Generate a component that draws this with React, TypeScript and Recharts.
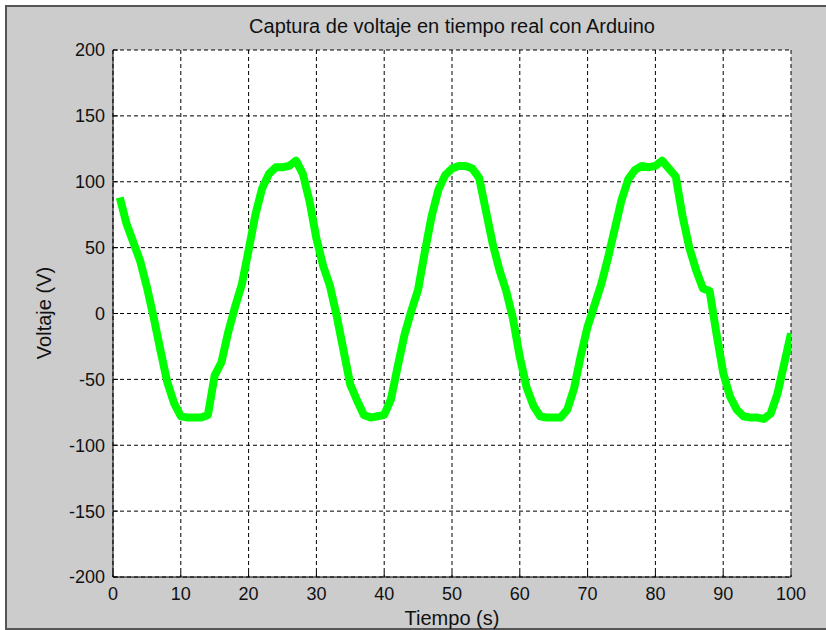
import React from 'react';
import { LineChart, Line, XAxis, YAxis, CartesianGrid } from 'recharts';

const times: number[] = Array.from({ length: 100 }, (_, i) => i + 1);

const voltages: number[] = [
  88, 68, 54, 40, 20, -3, -28, -52, -68, -78,
  -79, -79, -79, -77, -47, -37, -14, 5, 22, 48,
  75, 95, 106, 111, 111, 112, 116, 106, 85, 57,
  36, 21, -2, -28, -54, -66, -77, -79, -78, -77,
  -65, -40, -16, 2, 18, 47, 74, 94, 105, 110,
  112, 112, 110, 103, 78, 53, 33, 17, -4, -33,
  -56, -70, -78, -79, -79, -79, -73, -57, -32, -10,
  6, 22, 42, 64, 86, 102, 109, 112, 111, 112,
  116, 110, 104, 74, 50, 33, 19, 17, -15, -45,
  -63, -73, -78, -79, -79, -80, -76, -61, -38, -15,
];

const xTicks: number[] = [0, 10, 20, 30, 40, 50, 60, 70, 80, 90, 100];
const yTicks: number[] = [-200, -150, -100, -50, 0, 50, 100, 150, 200];

const titleText = 'Captura de voltaje en tiempo real con Arduino';
const xLabelText = 'Tiempo (s)';
const yLabelText = 'Voltaje (V)';

const data = times.map((t, i) => ({ t, v: voltages[i] }));

const FONT = '"Liberation Sans", Arial, sans-serif';
const tickStyle = { fontSize: 18, fill: '#111', fontFamily: FONT };

export default function App() {
  return (
    <div style={{ position: 'absolute', left: 0, top: 0, width: 826, height: 630, background: '#fff', overflow: 'hidden' }}>
      <div
        style={{
          position: 'absolute',
          left: 5,
          top: 5,
          width: 830,
          height: 621,
          background: '#cccccc',
          borderLeft: '2px solid #555',
          borderTop: '2px solid #555',
          borderBottom: '2px solid #555',
        }}
      />
      <div style={{ position: 'absolute', left: 0, top: 0 }}>
        <LineChart
          width={826}
          height={630}
          data={data}
          margin={{ top: 50, right: 35, bottom: 23, left: 53 }}
        >
          <CartesianGrid
            xAxisId="bottom"
            yAxisId="left"
            stroke="#000"
            strokeDasharray="4 3"
            fill="#ffffff"
            fillOpacity={1}
          />
          <XAxis
            xAxisId="bottom"
            dataKey="t"
            type="number"
            domain={[0, 100]}
            ticks={xTicks}
            allowDataOverflow
            height={30}
            tickSize={-5}
            tickMargin={15}
            stroke="#000"
            tick={tickStyle}
            tickLine={{ stroke: '#000' }}
            axisLine={{ stroke: '#000' }}
          />
          <XAxis
            xAxisId="top"
            orientation="top"
            dataKey="t"
            type="number"
            domain={[0, 100]}
            ticks={xTicks}
            height={0}
            tickSize={-5}
            tickFormatter={() => ''}
            stroke="#000"
            axisLine={{ stroke: '#000' }}
          />
          <YAxis
            yAxisId="left"
            type="number"
            domain={[-200, 200]}
            ticks={yTicks}
            allowDataOverflow
            width={60}
            tickSize={-5}
            tickMargin={13}
            stroke="#000"
            tick={tickStyle}
            tickLine={{ stroke: '#000' }}
            axisLine={{ stroke: '#000' }}
          />
          <YAxis
            yAxisId="right"
            orientation="right"
            type="number"
            domain={[-200, 200]}
            ticks={yTicks}
            width={0}
            tickSize={-5}
            tickFormatter={() => ''}
            stroke="#000"
            axisLine={{ stroke: '#000' }}
          />
          <Line
            xAxisId="bottom"
            yAxisId="left"
            type="linear"
            dataKey="v"
            stroke="#00ff00"
            strokeWidth={8}
            strokeLinejoin="round"
            dot={false}
            activeDot={false}
            isAnimationActive={false}
          />
        </LineChart>
      </div>
      <svg width={826} height={630} style={{ position: 'absolute', left: 0, top: 0, pointerEvents: 'none' }}>
        <text x={452} y={33} textAnchor="middle" fontSize={20} fontFamily={FONT} fill="#111">
          {titleText}
        </text>
        <text x={452} y={625} textAnchor="middle" fontSize={20} fontFamily={FONT} fill="#111">
          {xLabelText}
        </text>
        <text
          x={0}
          y={0}
          transform="translate(51,313) rotate(-90)"
          textAnchor="middle"
          fontSize={20}
          fontFamily={FONT}
          fill="#111"
        >
          {yLabelText}
        </text>
      </svg>
    </div>
  );
}
